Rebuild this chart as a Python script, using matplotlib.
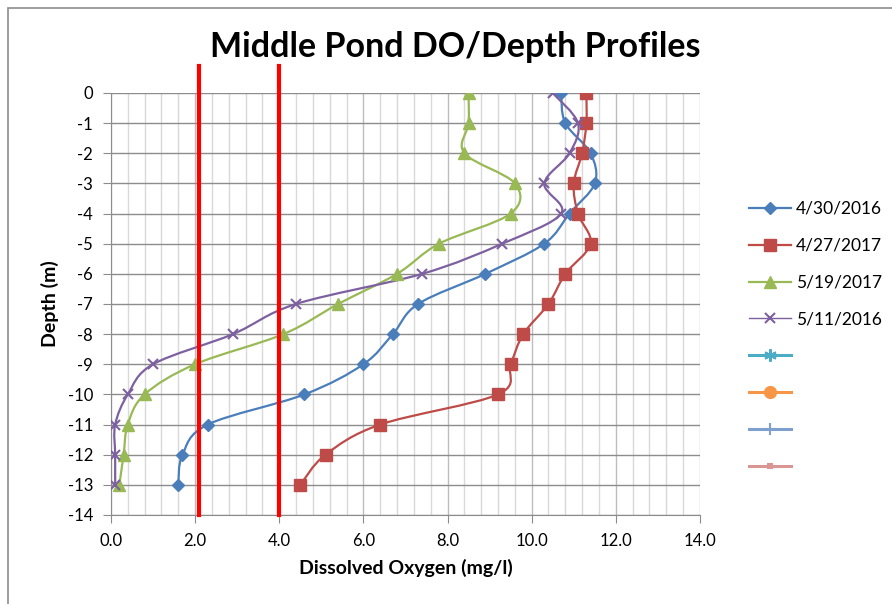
import numpy as np
import matplotlib
matplotlib.use("Agg")
import matplotlib.pyplot as plt
from matplotlib.path import Path
from matplotlib.patches import PathPatch, Rectangle
from matplotlib.lines import Line2D

plt.rcParams['font.family'] = ['Lato', 'DejaVu Sans']

# depth of each reading (m)
depth = [0, -1, -2, -3, -4, -5, -6, -7, -8, -9, -10, -11, -12, -13]

# dissolved oxygen readings (mg/l)
do_2016_04_30 = [10.7, 10.8, 11.4, 11.5, 10.9, 10.3, 8.9, 7.3, 6.7, 6.0, 4.6, 2.3, 1.7, 1.6]
do_2017_04_27 = [11.3, 11.3, 11.2, 11.0, 11.1, 11.4, 10.8, 10.4, 9.8, 9.5, 9.2, 6.4, 5.1, 4.5]
do_2017_05_19 = [8.5, 8.5, 8.4, 9.6, 9.5, 7.8, 6.8, 5.4, 4.1, 2.0, 0.8, 0.4, 0.3, 0.2]
do_2016_05_11 = [10.5, 11.1, 10.9, 10.3, 10.7, 9.3, 7.4, 4.4, 2.9, 1.0, 0.4, 0.1, 0.1, 0.1]

labels = ['4/30/2016', '4/27/2017', '5/19/2017', '5/11/2016']
# empty series kept in the legend like the spreadsheet
empty_series = 4

# reference DO thresholds (red lines)
thresholds = [2.1, 4.0]

x_ticks = [0, 2, 4, 6, 8, 10, 12, 14]
y_ticks = list(range(0, -15, -1))


def smooth_path(xs, ys):
    """Excel-like smoothed line: Catmull-Rom turned into cubic Beziers."""
    pts = np.column_stack([xs, ys]).astype(float)
    n = len(pts)
    verts = [pts[0]]
    codes = [Path.MOVETO]
    for i in range(n - 1):
        p0 = pts[i - 1] if i > 0 else pts[i]
        p1 = pts[i]
        p2 = pts[i + 1]
        p3 = pts[i + 2] if i + 2 < n else pts[i + 1]
        c1 = p1 + (p2 - p0) / 6.0
        c2 = p2 - (p3 - p1) / 6.0
        verts += [c1, c2, p2]
        codes += [Path.CURVE4] * 3
    return Path(verts, codes)


fig = plt.figure(figsize=(8.92, 6.04), dpi=100)
ax = fig.add_axes([0.1244, 0.1474, 0.6603, 0.6987])

# chart area border (top and left edges visible in the crop)
fig.patches.append(Rectangle((8 / 892, -0.1), 1.2, 1 - 8 / 604 + 0.1,
                             transform=fig.transFigure, fill=False,
                             edgecolor='#8c8c8c', linewidth=1.2))

series = [
    (do_2016_04_30, '#4A7EBB', 'D', 6),
    (do_2017_04_27, '#BE4B48', 's', 8),
    (do_2017_05_19, '#98B954', '^', 8),
    (do_2016_05_11, '#7D60A0', 'x', 7),
]

handles = []
for (vals, color, marker, ms), lab in zip(series, labels):
    patch = PathPatch(smooth_path(vals, depth), facecolor='none',
                      edgecolor=color, linewidth=1.6, zorder=3)
    ax.add_patch(patch)
    ax.plot(vals, depth, linestyle='none', marker=marker, markersize=ms,
            color=color, markeredgewidth=1.5 if marker == 'x' else 1.0,
            zorder=4)
    handles.append(Line2D([], [], color=color, marker=marker, markersize=ms,
                          linewidth=1.6 if marker != 'x' else 1.0,
                          markeredgewidth=1.5 if marker == 'x' else 1.0))

# the unused series of the template
extra = [('#4BACC6', (6, 2, 0), 9), ('#F79646', 'o', 8),
         ('#7F9FCF', '+', 9), ('#D99694', 's', 3)]
for color, marker, ms in extra[:empty_series]:
    handles.append(Line2D([], [], color=color, marker=marker, markersize=ms,
                          linewidth=2.2, markeredgewidth=1.5))
all_labels = labels + [''] * empty_series

for t in thresholds:
    ax.plot([t, t], [0.9, -14], color='#FF0000', linewidth=3,
            clip_on=False, zorder=5)

ax.set_xlim(0, 14)
ax.set_ylim(-14, 0)
ax.set_xticks(x_ticks)
ax.set_xticklabels([f'{v:.1f}' for v in x_ticks])
ax.set_xticks(np.arange(0, 14.01, 0.4), minor=True)
ax.set_yticks(y_ticks)
ax.set_yticklabels([str(v) for v in y_ticks])

ax.grid(which='minor', axis='x', color='#D9D9D9', linewidth=1.0)
ax.grid(which='major', axis='x', color='#BDBDBD', linewidth=1.0)
ax.grid(which='major', axis='y', color='#8C8C8C', linewidth=1.0)
ax.set_axisbelow(True)

for side in ['top', 'right']:
    ax.spines[side].set_visible(False)
for side in ['left', 'bottom']:
    ax.spines[side].set_color('#8C8C8C')

ax.tick_params(which='major', direction='out', length=6, color='#8C8C8C',
               labelsize=12, pad=7)
ax.tick_params(which='minor', length=0)

ax.set_xlabel('Dissolved Oxygen (mg/l)', fontsize=14, fontweight='bold',
              labelpad=7)
ax.set_ylabel('Depth (m)', fontsize=14, fontweight='bold', labelpad=6)

fig.text(455 / 892, 1 - 47 / 604, 'Middle Pond DO/Depth Profiles',
         fontsize=24.5, fontweight='bold', ha='center', va='center')

fig.legend(handles, all_labels, loc='upper left',
           bbox_to_anchor=(749 / 892, 1 - 201 / 604), frameon=False,
           fontsize=12.5, handlelength=2.4, handletextpad=0.3,
           labelspacing=1.2, borderpad=0, borderaxespad=0)

fig.savefig('out.png', dpi=100)
